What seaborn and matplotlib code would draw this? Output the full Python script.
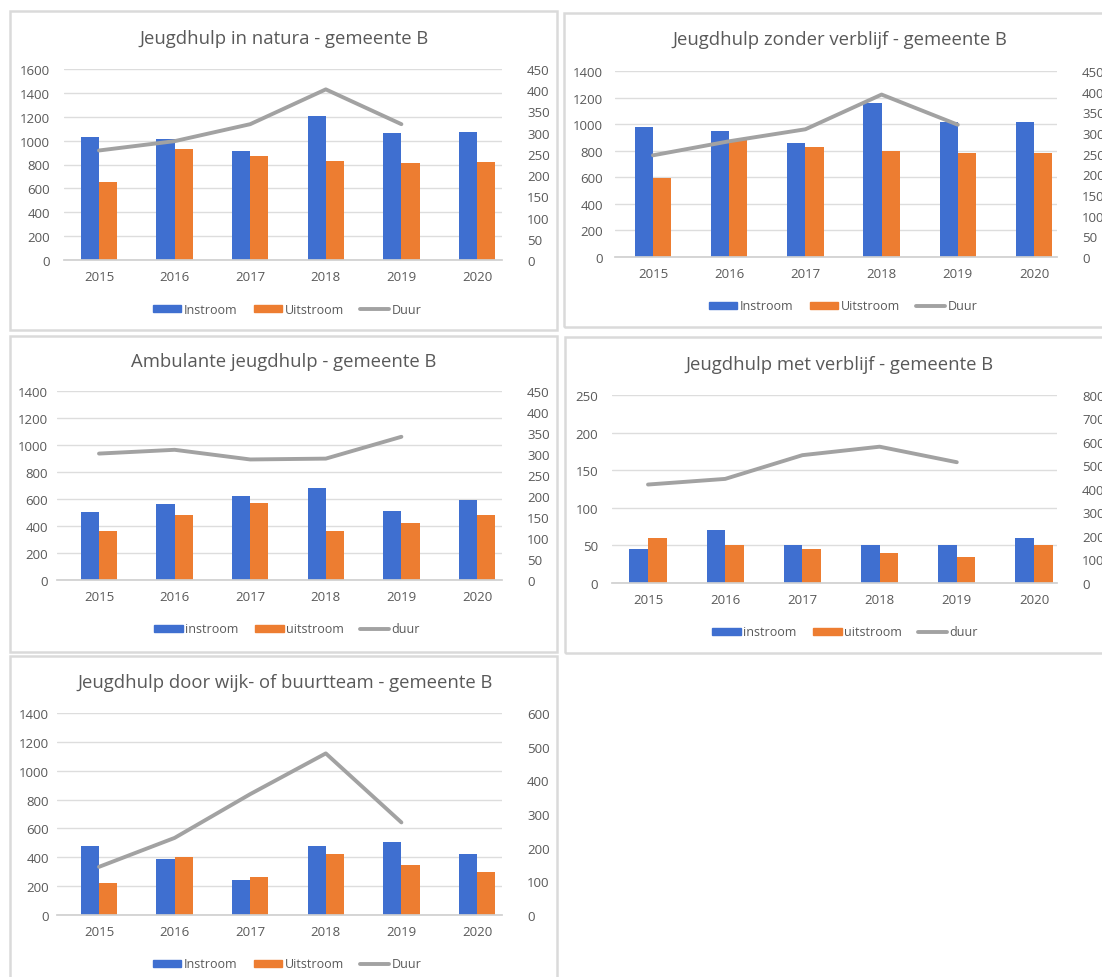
import numpy as np
import pandas as pd
import seaborn as sns
import matplotlib.pyplot as plt
from matplotlib.patches import Rectangle, Patch
from matplotlib.lines import Line2D

jaren = ['2015', '2016', '2017', '2018', '2019', '2020']

# Jeugdhulp in natura
natura_in = [1030, 1010, 915, 1210, 1065, 1070]
natura_uit = [650, 930, 875, 830, 810, 820]
natura_duur = [258, 280, 320, 402, 320]

# Jeugdhulp zonder verblijf
zonder_in = [975, 950, 860, 1160, 1015, 1015]
zonder_uit = [595, 880, 830, 800, 780, 780]
zonder_duur = [246, 280, 309, 393, 320]

# Ambulante jeugdhulp
amb_in = [505, 565, 625, 685, 510, 590]
amb_uit = [360, 480, 570, 360, 425, 480]
amb_duur = [301, 310, 287, 289, 341]

# Jeugdhulp met verblijf
met_in = [45, 70, 50, 50, 50, 60]
met_uit = [60, 50, 45, 40, 35, 50]
met_duur = [419, 443, 544, 580, 514]

# Jeugdhulp door wijk- of buurtteam
wijk_in = [475, 385, 240, 480, 505, 425]
wijk_uit = [225, 400, 265, 425, 350, 295]
wijk_duur = [143, 229, 359, 480, 275]

BLUE = '#3F6FD0'
ORANGE = '#ED7D31'
GREY = '#A2A2A2'
TXT = '#595959'

W, H = 1102, 978
sns.set_theme(style='white')
plt.rcParams['font.family'] = ['Open Sans', 'DejaVu Sans']

fig = plt.figure(figsize=(W / 100, H / 100), dpi=100)
fig.patch.set_facecolor('white')


def fx(x):
    return x / W


def fy(y):
    return 1 - y / H


def panel(frame, grid_x, top, bottom, lpad, title, title_xy, legend_xy,
          inst, uit, duur, ymax, ystep, rmax, rstep, labels):
    # grey frame round each chart
    x0, y0, x1, y1 = frame
    fig.add_artist(Rectangle((fx(x0), fy(y1)), fx(x1 - x0), (y1 - y0) / H,
                             transform=fig.transFigure, fill=False,
                             edgecolor='#DADADA', lw=1.8))
    # grid_x: left gridline end, centre of first and last year, right gridline end
    left, c0, c5, right = grid_x
    step = (c5 - c0) / (len(jaren) - 1)
    ax = fig.add_axes([fx(left), fy(bottom), fx(right - left), (bottom - top) / H])
    df = pd.DataFrame({
        'jaar': jaren * 2,
        'aantal': inst + uit,
        'reeks': [labels[0]] * len(jaren) + [labels[1]] * len(jaren),
    })
    sns.barplot(data=df, x='jaar', y='aantal', hue='reeks',
                palette=[BLUE, ORANGE], width=0.48, gap=0, ax=ax,
                legend=False, saturation=1, linewidth=0)
    ax.set_xlim(-(c0 - left) / step, len(jaren) - 1 + (right - c5) / step)
    ax.set_ylim(0, ymax)
    ax.set_yticks(np.arange(0, ymax + 1, ystep))
    ax.yaxis.grid(True, color='#DDDDDD', lw=1)
    ax.set_axisbelow(True)
    for s in ['top', 'right', 'left']:
        ax.spines[s].set_visible(False)
    ax.spines['bottom'].set_color('#D0D0D0')
    ax.set_xlabel('')
    ax.set_ylabel('')
    ax.tick_params(axis='both', length=0, labelsize=9.5, colors=TXT)
    ax.tick_params(axis='x', pad=7)
    ax.tick_params(axis='y', pad=lpad * 0.72)

    ax2 = ax.twinx()
    sns.lineplot(x=np.arange(len(duur)), y=duur, ax=ax2, color=GREY, lw=2.8)
    ax2.set_ylim(0, rmax)
    ax2.set_yticks(np.arange(0, rmax + 1, rstep))
    for s in ax2.spines.values():
        s.set_visible(False)
    ax2.tick_params(axis='y', length=0, labelsize=9.5, colors=TXT, pad=18)
    ax2.set_ylabel('')

    fig.text(fx(title_xy[0]), fy(title_xy[1]), title, ha='center',
             va='center', fontsize=13.3, color=TXT)
    handles = [Patch(color=BLUE, label=labels[0]),
               Patch(color=ORANGE, label=labels[1]),
               Line2D([], [], color=GREY, lw=2.8, label=labels[2])]
    fig.legend(handles=handles, loc='center',
               bbox_to_anchor=(fx(legend_xy[0]), fy(legend_xy[1])), ncol=3,
               frameon=False, fontsize=9, labelcolor=TXT,
               handlelength=2.3, handleheight=0.5, handletextpad=0.2,
               columnspacing=1.3)


caps = ['Instroom', 'Uitstroom', 'Duur']
low = ['instroom', 'uitstroom', 'duur']

panel((10, 12, 557, 331), (64, 99, 477, 502), 70, 261, 14,
      'Jeugdhulp in natura - gemeente B', (284, 39), (287, 310),
      natura_in, natura_uit, natura_duur, 1600, 200, 450, 50, caps)
panel((564, 14, 1120, 328), (615, 653, 1034, 1057), 72, 258, 12,
      'Jeugdhulp zonder verblijf - gemeente B', (840, 40), (843, 307),
      zonder_in, zonder_uit, zonder_duur, 1400, 200, 450, 50, caps)
panel((10, 337, 557, 653), (57, 99, 477, 502), 392, 581, 9,
      'Ambulante jeugdhulp - gemeente B', (284, 362), (287, 630),
      amb_in, amb_uit, amb_duur, 1400, 200, 450, 50, low)
panel((565, 338, 1120, 654), (612, 648, 1034, 1057), 396, 584, 14,
      'Jeugdhulp met verblijf - gemeente B', (840, 365), (845, 633),
      met_in, met_uit, met_duur, 250, 50, 800, 100, low)
panel((10, 657, 557, 990), (57, 99, 477, 502), 714, 916, 8,
      'Jeugdhulp door wijk- of buurtteam - gemeente B', (285, 683), (287, 965),
      wijk_in, wijk_uit, wijk_duur, 1400, 200, 600, 100, caps)

fig.savefig('out.png', dpi=100)
